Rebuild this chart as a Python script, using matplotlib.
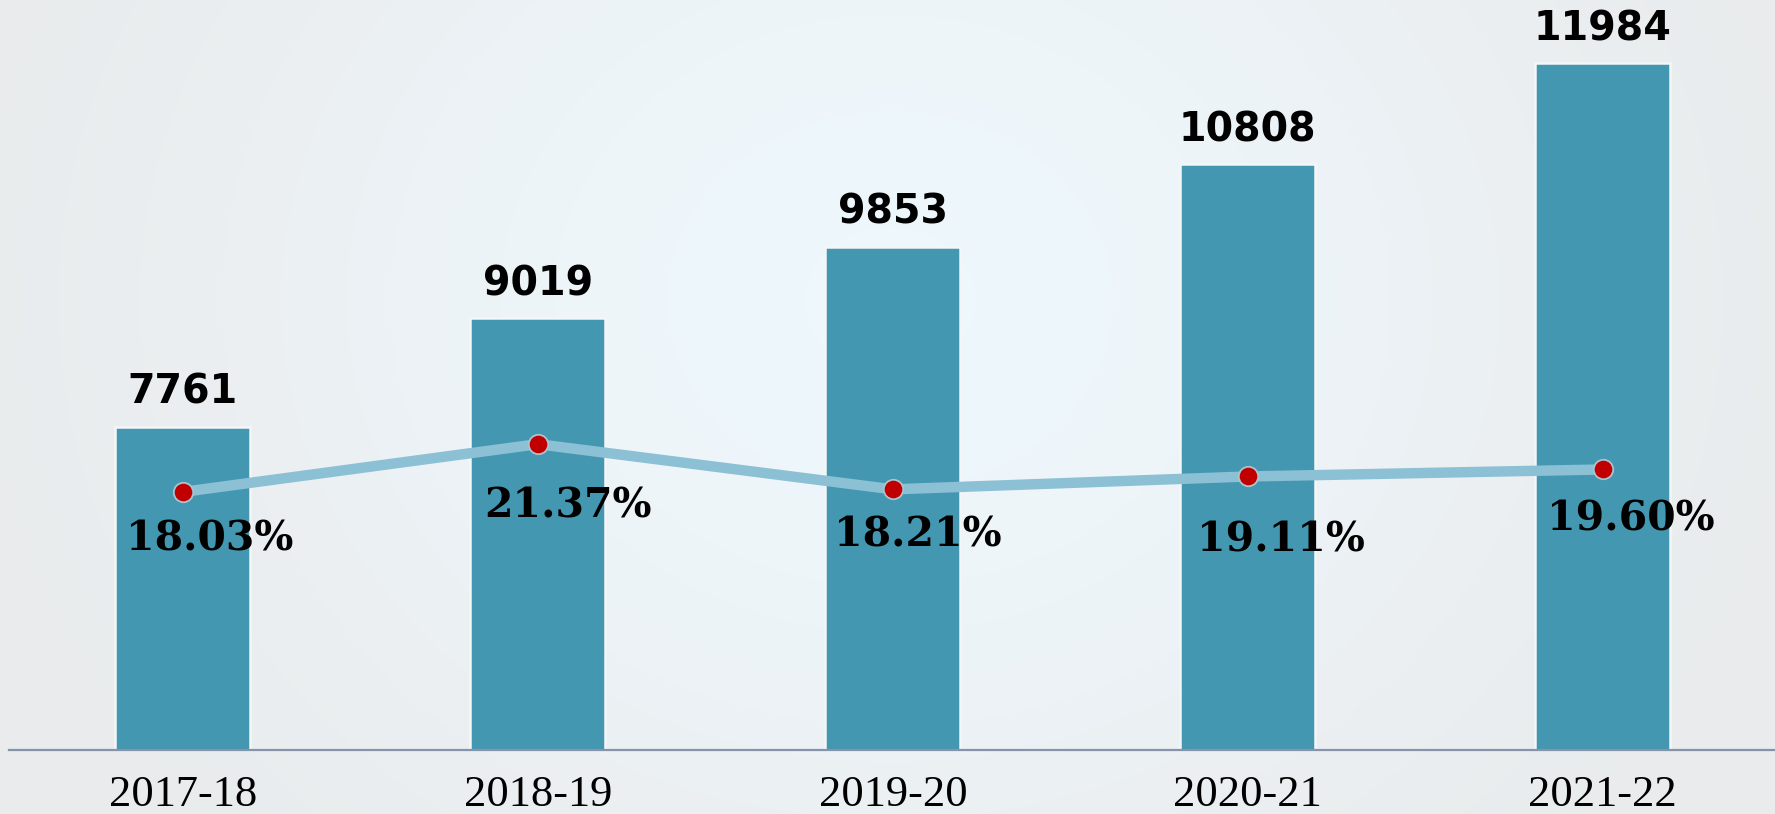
import numpy as np
import matplotlib
matplotlib.use("Agg")
import matplotlib.pyplot as plt
from matplotlib.colors import LinearSegmentedColormap

years = ["2017-18", "2018-19", "2019-20", "2020-21", "2021-22"]
values = [7761, 9019, 9853, 10808, 11984]
percents = [18.03, 21.37, 18.21, 19.11, 19.60]
pct_labels = ["18.03%", "21.37%", "18.21%", "19.11%", "19.60%"]

# label placement offsets (points) for the percentage labels
pct_dx = [19, 22, 18, 24, 20]
pct_dy = [-34, -45, -33, -46, -36]

W, H = 1775, 814
fig = plt.figure(figsize=(W / 100, H / 100), dpi=100)

# background radial gradient
bg = fig.add_axes([0, 0, 1, 1], zorder=-10)
yy, xx = np.mgrid[0:H, 0:W]
cx, cy = 890, 300
r = np.sqrt(((xx - cx) / 1.0) ** 2 + ((yy - cy) / 0.85) ** 2)
r = np.clip(r / 1000, 0, 1)
cmap = LinearSegmentedColormap.from_list("bg", ["#eef8fd", "#edf5f9", "#ebeff1", "#e9ebec"])
bg.imshow(r, cmap=cmap, aspect="auto", extent=[0, 1, 0, 1], vmin=0, vmax=1)
bg.axis("off")

ax = fig.add_axes([0.005, 1 - 750 / 814, 0.995, 750 / 814])
ax.set_facecolor("none")
x = np.arange(len(years))
bars = ax.bar(x, values, width=0.38, color="#4397b0", edgecolor="#f4f6f7", linewidth=1.8, zorder=2)
ax.set_xlim(-0.49, 4.485)
ax.set_ylim(4000, 12720)
ax.set_yticks([])
for s in ["top", "right", "left"]:
    ax.spines[s].set_visible(False)
ax.spines["bottom"].set_color("#8793a8")
ax.spines["bottom"].set_linewidth(1.6)
ax.spines["bottom"].set_zorder(3)
ax.set_xticks(x)
ax.set_xticklabels(years, fontfamily="Liberation Serif", fontsize=32)
ax.tick_params(axis="x", length=0, pad=18)

for xi, v in zip(x, values):
    ax.annotate(str(v), (xi, v), xytext=(0, 10), textcoords="offset points",
                ha="center", va="bottom", fontsize=28.5, fontweight="bold",
                fontfamily="DejaVu Sans", color="black", zorder=5)

ax2 = ax.twinx()
ax2.set_ylim(0, 52.4)
ax2.set_yticks([])
for s in ax2.spines.values():
    s.set_visible(False)
ax2.plot(x, percents, color="#8cc0d4", linewidth=7.5, zorder=3,
         marker="o", markersize=14, markerfacecolor="#c00000",
         markeredgecolor="#a8c4d0", markeredgewidth=1.3)
for xi, p, lab, dx, dy in zip(x, percents, pct_labels, pct_dx, pct_dy):
    ax2.annotate(lab, (xi, p), xytext=(dx, dy), textcoords="offset points",
                 ha="center", va="center", fontsize=29.5, fontweight="bold",
                 fontfamily="DejaVu Serif", color="black", zorder=6)

fig.savefig("out.png", dpi=100)
